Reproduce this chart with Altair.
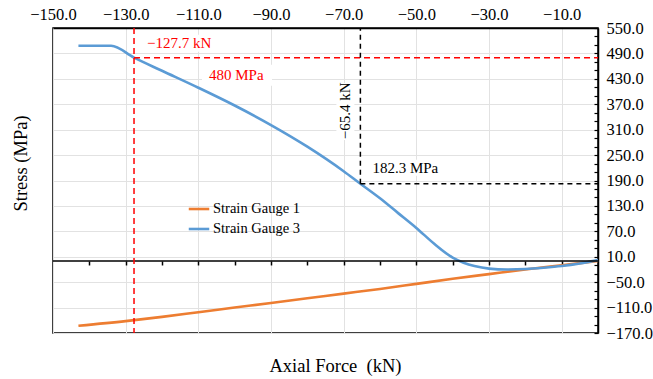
import altair as alt
import pandas as pd

# ---------------- data ----------------
series_names = ["Strain Gauge 1", "Strain Gauge 3"]
series_colors = ["#ED7D31", "#5B9BD5"]

force_sg1 = [-143, -130, -120, -110, -100, -90, -80, -70, -60, -50, -40, -30, -20, -10, 0]
stress_sg1 = [-153, -142, -132, -121, -110, -99, -88, -77, -66, -54, -42, -31, -20, -10, 0]

force_sg3 = [-143, -134, -127.7, -120, -110, -100, -90, -80, -70, -65.4, -60, -55, -50,
             -45, -40, -37, -34, -30, -25, -20, -15, -10, -5, 0]
stress_sg3 = [508, 508, 480, 449, 409, 367, 321, 270, 212, 182.3, 148, 113, 78,
              40, 8, -4, -12, -18, -20, -19, -16, -12, -6, 2]

top_tick_values = [-150, -130, -110, -90, -70, -50, -30, -10]
zero_tick_values = [-140, -130, -120, -110, -100, -90, -80, -70, -60, -50, -40, -30, -20, -10]
y_label_values = [550, 490, 430, 370, 310, 250, 190, 130, 70, 10, -50, -110, -170]
y_minor_values = list(range(-170, 551, 20))

yield_force = [-127.7]
yield_stress = [480]
yield_force_label = ["\u2212127.7 kN"]
yield_stress_label = ["480 MPa"]
point_force = [-65.4]
point_stress = [182.3]
point_force_label = ["\u221265.4 kN"]
point_stress_label = ["182.3 MPa"]

x_title = "Axial Force \u00a0(kN)"
y_title = "Stress (MPa)"

# ---------------- layout ----------------
W, H = 545, 305
XMIN, XMAX = -150, 0
YMIN, YMAX = -170, 550
FONT = "Liberation Serif"
GRID = "#e2e2e2"

xs = alt.Scale(domain=[XMIN, XMAX], nice=False, zero=False)
ys = alt.Scale(domain=[YMIN, YMAX], nice=False, zero=False)
zero_offset = -(0 - YMIN) / (YMAX - YMIN) * H

rows = []
for f, s in zip(force_sg1, stress_sg1):
    rows.append({"force": f, "stress": s, "series": series_names[0]})
for f, s in zip(force_sg3, stress_sg3):
    rows.append({"force": f, "stress": s, "series": series_names[1]})
lines_df = pd.DataFrame(rows)

yield_df = pd.DataFrame({"force": yield_force, "stress": yield_stress, "end": [XMAX],
                         "flabel": yield_force_label, "slabel": yield_stress_label})
point_df = pd.DataFrame({"force": point_force, "stress": point_stress, "end": [XMAX],
                         "top": [YMAX], "flabel": point_force_label, "slabel": point_stress_label})
point_df["mid"] = (point_df["stress"] + point_df["top"]) / 2

NOAX_X = alt.X("force:Q", scale=xs, axis=None)


def label_box(df, ycol, xo, x2o, yo, y2o):
    return alt.Chart(df).mark_rect(color="white", xOffset=xo, x2Offset=x2o,
                                   yOffset=yo, y2Offset=y2o).encode(
        x=NOAX_X, x2="force:Q",
        y=alt.Y(f"{ycol}:Q", scale=ys, axis=None), y2=f"{ycol}:Q")


box_yf = label_box(yield_df, "stress", 9, 84, -23, -6)
box_ys = label_box(yield_df, "stress", 68, 138, 7, 28)
box_pf = label_box(point_df, "mid", -24, -6, -23, 34)
box_ps = label_box(point_df, "stress", 9, 84, -24, -8)

lines = alt.Chart(lines_df).mark_line(strokeWidth=2.6, interpolate="monotone").encode(
    x=alt.X("force:Q", scale=xs, axis=alt.Axis(
        orient="top", values=top_tick_values, format=".1f", title=None,
        ticks=False, tickSize=0, labelPadding=6, labelFlush=False, labelOverlap=False,
        grid=True, gridColor=GRID, gridWidth=1,
        domain=True, domainColor="black", domainWidth=1.5,
        labelFont=FONT, labelFontSize=16.5, labelColor="black")),
    y=alt.Y("stress:Q", scale=ys, axis=alt.Axis(
        orient="right", values=y_label_values, format=".1f", title=None,
        ticks=False, tickSize=0, labelPadding=8, labelOverlap=False,
        grid=True, gridColor=GRID, gridWidth=1,
        domain=True, domainColor="black", domainWidth=1.5,
        labelFont=FONT, labelFontSize=16.5, labelColor="black")),
    color=alt.Color("series:N", scale=alt.Scale(domain=series_names, range=series_colors),
                    legend=alt.Legend(title=None, orient="none", legendX=134, legendY=169,
                                      symbolType="stroke", symbolSize=420, symbolStrokeWidth=2.6,
                                      labelFont=FONT, labelFontSize=14.5, labelColor="black",
                                      labelOffset=2, rowPadding=1, padding=0)),
)

zero_df = pd.DataFrame({"x": [XMIN], "x2": [XMAX], "y": [0]})
zero_line = alt.Chart(zero_df).mark_rule(color="black", strokeWidth=1.5).encode(
    x=alt.X("x:Q", scale=xs, axis=alt.Axis(
        orient="bottom", offset=zero_offset, values=zero_tick_values, labels=False,
        ticks=True, tickSize=4, tickWidth=1.5, tickColor="black", domain=False, grid=False,
        title=x_title, titleX=282, titleY=111, titleAlign="center", titleBaseline="alphabetic",
        titleFont=FONT, titleFontSize=18.5, titleFontWeight="normal", titleColor="black")),
    x2="x2:Q",
    y=alt.Y("y:Q", scale=ys, axis=alt.Axis(
        orient="right", offset=-4, values=y_minor_values, labels=False,
        ticks=True, tickSize=4, tickWidth=1.2, tickColor="black", domain=False, grid=False,
        title=None)),
)

red_v = alt.Chart(yield_df).mark_rule(color="#FF0000", strokeWidth=1.5, strokeDash=[6, 4]).encode(
    x=NOAX_X)
red_h = alt.Chart(yield_df).mark_rule(color="#FF0000", strokeWidth=1.5, strokeDash=[6, 4]).encode(
    x=NOAX_X, x2="end:Q",
    y=alt.Y("stress:Q", scale=ys, axis=alt.Axis(
        orient="left", labels=False, ticks=False, domain=False, grid=False,
        title=y_title, titleX=-27, titleY=135, titleAngle=270, titleAlign="center",
        titleBaseline="alphabetic", titleFont=FONT, titleFontSize=18.5,
        titleFontWeight="normal", titleColor="black")))
blk_v = alt.Chart(point_df).mark_rule(color="black", strokeWidth=1.5, strokeDash=[5, 4]).encode(
    x=NOAX_X, y=alt.Y("stress:Q", scale=ys, axis=None), y2="top:Q")
blk_h = alt.Chart(point_df).mark_rule(color="black", strokeWidth=1.5, strokeDash=[5, 4]).encode(
    x=NOAX_X, x2="end:Q", y=alt.Y("stress:Q", scale=ys, axis=None))

txt_yf = alt.Chart(yield_df).mark_text(font=FONT, fontSize=15, color="#FF0000", align="left",
                                       baseline="middle", dx=13, dy=-15).encode(
    x=NOAX_X, y=alt.Y("stress:Q", scale=ys, axis=None), text="flabel:N")
txt_ys = alt.Chart(yield_df).mark_text(font=FONT, fontSize=15, color="#FF0000", align="left",
                                       baseline="middle", dx=75, dy=17).encode(
    x=NOAX_X, y=alt.Y("stress:Q", scale=ys, axis=None), text="slabel:N")
txt_pf = alt.Chart(point_df).mark_text(font=FONT, fontSize=15, color="black", align="center",
                                       baseline="middle", angle=270, dx=-5, dy=-15).encode(
    x=NOAX_X, y=alt.Y("mid:Q", scale=ys, axis=None), text="flabel:N")
txt_ps = alt.Chart(point_df).mark_text(font=FONT, fontSize=15, color="black", align="left",
                                       baseline="middle", dx=12, dy=-16).encode(
    x=NOAX_X, y=alt.Y("stress:Q", scale=ys, axis=None), text="slabel:N")

chart = alt.layer(
    box_yf, box_ys, box_pf, box_ps,
    lines, zero_line, red_h, red_v, blk_v, blk_h, txt_yf, txt_ys, txt_pf, txt_ps
).resolve_axis(x="independent", y="independent").properties(
    width=W, height=H,
    autosize=alt.AutoSizeParams(type="none"),
    padding={"left": 53, "top": 28, "right": 55, "bottom": 46},
    background="white",
).configure_view(stroke="black", strokeWidth=1.5)

chart.save("out.html", embed_options={"renderer": "svg", "actions": False})
